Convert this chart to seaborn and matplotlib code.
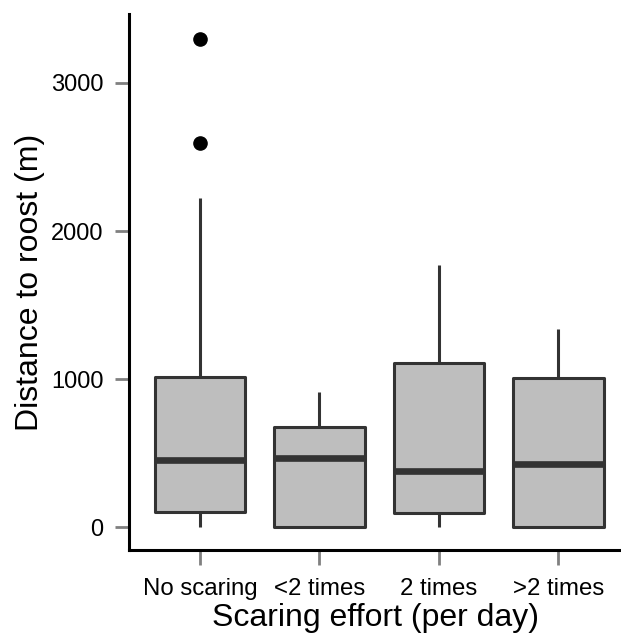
import matplotlib
matplotlib.use("Agg")
import matplotlib.pyplot as plt
import seaborn as sns
import pandas as pd

# Categories (x axis)
categories = ["No scaring", "<2 times", "2 times", ">2 times"]

# Observations per group (m), read so that box stats match the picture
no_scaring = [0, 0, 103, 103, 453, 453, 453, 1011, 1011, 1011, 2223, 2595, 3297]
less_two = [0, 0, 464, 674, 914]
two_times = [0, 92, 380, 1106, 1770]
more_two = [0, 0, 426, 1005, 1338]

y_ticks = [0, 1000, 2000, 3000]

groups = [no_scaring, less_two, two_times, more_two]
rows = []
for cat, vals in zip(categories, groups):
    for v in vals:
        rows.append({"effort": cat, "distance": v})
df = pd.DataFrame(rows)

sns.set_style("white")
plt.rcParams["font.family"] = ["Liberation Sans", "DejaVu Sans"]
plt.rcParams["text.color"] = "black"
plt.rcParams["axes.labelcolor"] = "black"

fig = plt.figure(figsize=(6.21, 6.36), dpi=100)
ax = fig.add_axes([129 / 621, 1 - 550 / 636, 1 - 129 / 621, (550 - 14) / 636])

edge = "#333333"
sns.boxplot(
    data=df, x="effort", y="distance", order=categories, ax=ax,
    color="#BEBEBE", saturation=1, width=0.76, linewidth=2.2,
    linecolor=edge, showcaps=False, fliersize=9.5,
    flierprops=dict(marker="o", markerfacecolor="black", markeredgecolor="black"),
    medianprops=dict(linewidth=4.8, color=edge, solid_capstyle="butt"),
    whiskerprops=dict(linewidth=2.2, color=edge),
    boxprops=dict(edgecolor=edge, linewidth=2.2, joinstyle="round"),
)

ax.set_xlim(-0.594, 3.523)
ax.set_ylim(-155, 3466)
ax.set_yticks(y_ticks)
ax.set_yticklabels([str(t) for t in y_ticks])

for s in ["top", "right"]:
    ax.spines[s].set_visible(False)
for s in ["left", "bottom"]:
    ax.spines[s].set_color("black")
    ax.spines[s].set_linewidth(2.2)

ax.tick_params(axis="y", length=10, width=2, color="#808080", pad=8.5, labelsize=17, labelcolor="black", left=True)
ax.tick_params(axis="x", length=11, width=2, color="#808080", pad=9, labelsize=17.3, labelcolor="black", bottom=True)

ax.set_xlabel("Scaring effort (per day)", fontsize=23, labelpad=2.5, color="black")
ax.set_ylabel("Distance to roost (m)", fontsize=23, labelpad=4, color="black")
ax.grid(False)

fig.savefig("out.png", dpi=100)
